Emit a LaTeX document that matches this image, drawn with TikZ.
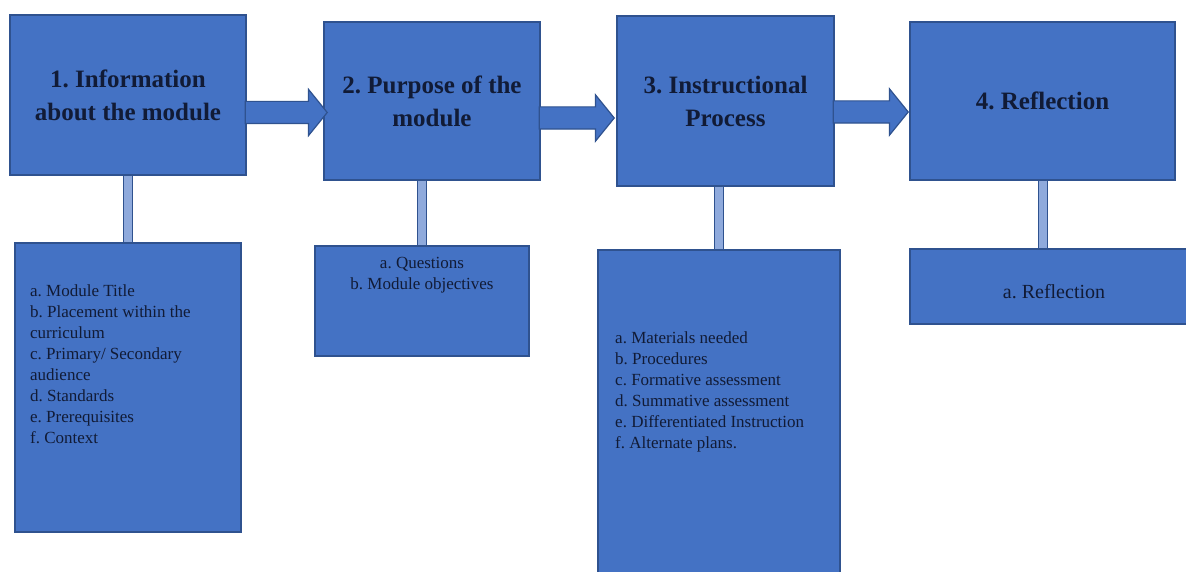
\documentclass[tikz,border=0pt]{standalone}
\usepackage{fontspec}
\setmainfont{Liberation Serif}
\usepackage{xcolor}
\usepackage{tikz}
\usetikzlibrary{positioning, shapes.arrows}
\definecolor{boxblue}{HTML}{4472C4}
\definecolor{boxedge}{HTML}{2F528F}
\definecolor{stemblue}{HTML}{8FAADC}
\definecolor{inkblue}{HTML}{111B36}
\frenchspacing

\begin{document}
\begin{tikzpicture}[
    x=1pt, y=-1pt,
    box/.style={
        draw=boxedge,
        line width=1.2pt,
        fill=boxblue,
        inner sep=0pt,
        text=inkblue
    },
    title/.style={box, align=center, font=\fontsize{25}{33}\selectfont\bfseries},
    list/.style={align=left, inner sep=0pt, text=inkblue, font=\fontsize{17}{21}\selectfont},
    blockarrow/.style={single arrow, draw=boxedge, line width=1.2pt, fill=boxblue,
        inner sep=10.5pt, single arrow head extend=12pt,
        single arrow tip angle=102, anchor=tip},
    stem/.style={draw=boxedge, line width=1pt, double=stemblue, double distance=8pt}
]
\useasboundingbox[fill=white] (0,0) rectangle (1186,572);

% main steps
\node[title, minimum width=236pt, minimum height=160pt] (info) at (128,95) {1. Information\\about the module};
\node[title, minimum width=216pt, minimum height=158pt] (purpose) at (432,101) {2. Purpose of the\\module};
\node[title, minimum width=217pt, minimum height=170pt] (process) at (725.5,101) {3. Instructional\\Process};
\node[title, minimum width=265pt, minimum height=158pt] (reflect) at (1042.5,101) {4. Reflection};

% detail boxes
\node[box, minimum width=226pt, minimum height=289pt] (infodet) at (128,387.5) {};
\node[box, minimum width=214pt, minimum height=110pt] (purposedet) at (422,301) {};
\node[box, minimum width=242pt, minimum height=350pt] (processdet) at (719,425) {};
\node[box, minimum width=290pt, minimum height=75pt] (reflectdet) at (1055,286.5) {};

\node[list, anchor=north west] (infotxt) at (30,285) {a. Module Title\\b. Placement within the\\curriculum\\c. Primary/ Secondary\\audience\\d. Standards\\e. Prerequisites\\f. Context};
\node[list, anchor=north, align=center] (purposetxt) at (422,257) {a. Questions\\b. Module objectives};
\node[list, anchor=north west] (processtxt) at (615,332) {a. Materials needed\\b. Procedures\\c. Formative assessment\\d. Summative assessment\\e. Differentiated Instruction\\f. Alternate plans.};
\node[list, font=\fontsize{20}{24}\selectfont] (reflecttxt) at (1054,292) {a. Reflection};

\draw[stem] (info.south) -- (infodet.north);
\draw[stem] (purpose.south -| purposedet.north) -- (purposedet.north);
\draw[stem] (process.south -| processdet.north) -- (processdet.north);
\draw[stem] (reflect.south) -- (reflect.south |- reflectdet.north);

\node[blockarrow, minimum height=82pt] (arr1) at (328,112.5) {};
\node[blockarrow, minimum height=75pt] (arr2) at (615,118) {};
\node[blockarrow, minimum height=75pt] (arr3) at (909,112) {};

\end{tikzpicture}
\end{document}
